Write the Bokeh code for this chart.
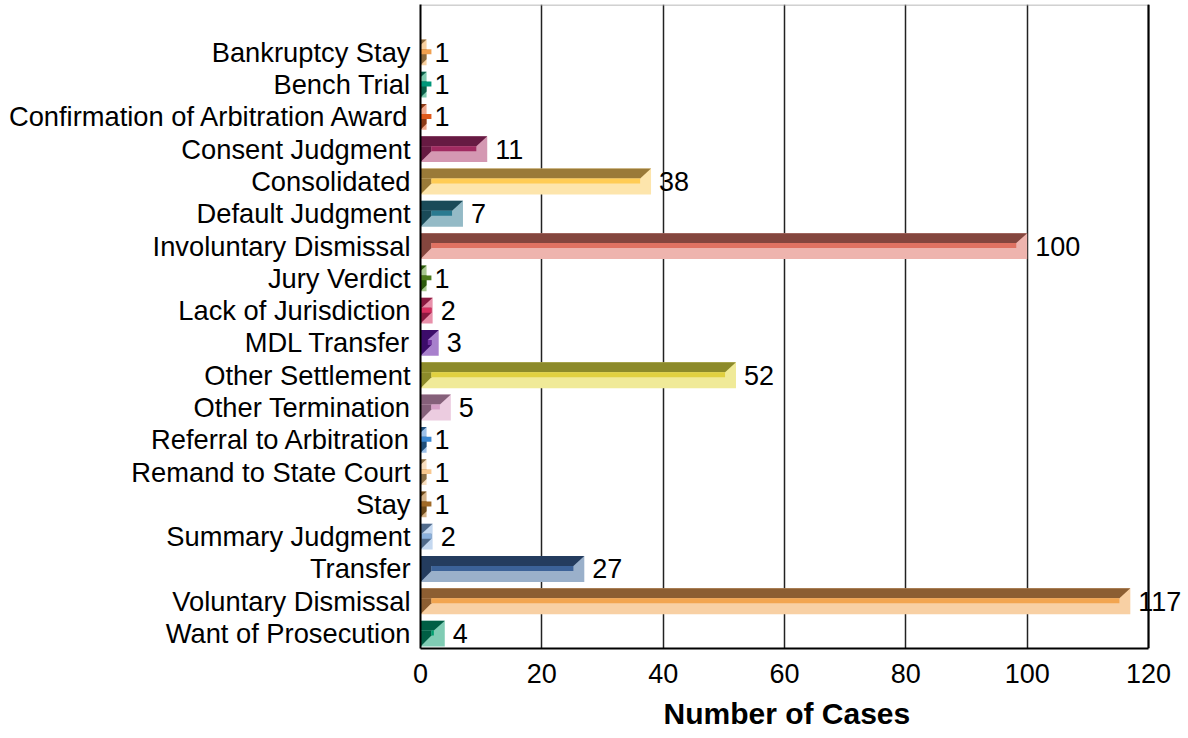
from bokeh.plotting import figure
from bokeh.models import FixedTicker, Span, ColumnDataSource, LabelSet, Title
from bokeh.core.properties import value
from bokeh.embed import file_html
from bokeh.resources import INLINE

categories = ["Bankruptcy Stay", "Bench Trial", "Confirmation of Arbitration Award",
              "Consent Judgment", "Consolidated", "Default Judgment", "Involuntary Dismissal",
              "Jury Verdict", "Lack of Jurisdiction", "MDL Transfer", "Other Settlement",
              "Other Termination", "Referral to Arbitration", "Remand to State Court", "Stay",
              "Summary Judgment", "Transfer", "Voluntary Dismissal", "Want of Prosecution"]
counts = [1, 1, 1, 11, 38, 7, 100, 1, 2, 3, 52, 5, 1, 1, 1, 2, 27, 117, 4]

dark_colors = ["#8C6A3E", "#0C5E48", "#8C3A16", "#661A42", "#9A7A38", "#1A4A58", "#84463E",
               "#2C5A0C", "#8A1A40", "#3C0C6A", "#8C8A2A", "#85607A", "#1F4E79", "#8C7048",
               "#6C4A1C", "#506A8A", "#243C5E", "#8C5E32", "#005E44"]
mid_colors = ["#F0A050", "#00977A", "#E05A1C", "#A02A60", "#FFCC55", "#2A7A90", "#E07262",
              "#4C7C1C", "#D83060", "#7030A0", "#E0D040", "#D8A0C8", "#3A86D0", "#F8C890",
              "#A06A28", "#8AB0DC", "#3C6298", "#F2A550", "#00A070"]
light_colors = ["#F8D0A0", "#80CCB0", "#F0A88C", "#D498B2", "#FDE5AC", "#94BAC6", "#EEB4AE",
                "#A8C890", "#E890AA", "#A880CC", "#F0EA98", "#ECCCE0", "#9CC0E8", "#F8DEC0",
                "#D6B48A", "#C4D8F0", "#9AB0CA", "#F8D0A4", "#80CCB4"]
x_ticks = [0, 20, 40, 60, 80, 100, 120]
x_max = 120
x_title = "Number of Cases"

FONT = "Liberation Sans"
n = len(categories)
ypos = [n - 1 - i for i in range(n)]

# geometry of the bevel (in data units)
half_h = 0.40
band_top = 0.308
band_mid = 0.154
bev = 1.8
y_lo, y_hi = -0.462, 19.48


def clip(poly, f):
    # Sutherland-Hodgman against half-plane f(x,y) <= 0
    out = []
    m = len(poly)
    for i in range(m):
        a = poly[i]
        b = poly[(i + 1) % m]
        fa, fb = f(*a), f(*b)
        if fa <= 0:
            out.append(a)
        if (fa <= 0) != (fb <= 0):
            t = fa / (fa - fb)
            out.append((a[0] + t * (b[0] - a[0]), a[1] + t * (b[1] - a[1])))
    return out


def rect(x0, x1, y0, y1):
    return [(x0, y0), (x1, y0), (x1, y1), (x0, y1)]


dxs, dys, dcol = [], [], []
sl, sr, sb_, st_, scol = [], [], [], [], []
for y, v, dc, mc in zip(ypos, counts, dark_colors, mid_colors):
    x0, x1 = 0.0, float(v)
    top, bot = y + half_h, y - half_h
    st = top - band_top
    sb = st - band_mid
    # upper dark face
    pa = clip(rect(x0, x1, st, top),
              lambda px, py, x1=x1, top=top, st=st: px - x1 + bev * (top - py) / (top - st))
    # left dark face
    pb = clip(rect(x0, min(x1, x0 + bev), bot, st),
              lambda px, py, bot=bot, sb=sb: px - (x0 + bev * (py - bot) / (sb - bot)))
    for poly in (pa, pb):
        if len(poly) >= 3:
            dxs.append([p[0] for p in poly])
            dys.append([p[1] for p in poly])
            dcol.append(dc)
    a, b = x0 + bev, x1 - bev
    sl.append(min(a, b)); sr.append(max(a, b)); sb_.append(sb); st_.append(st); scol.append(mc)

# frame is extended to the right so that the "117" label is not clipped
p = figure(width=1188, height=738, output_backend="svg", toolbar_location=None,
           x_range=(0, 126.59), y_range=(y_lo, y_hi),
           min_border_left=420, min_border_right=0, min_border_top=4, min_border_bottom=87)

bars = ColumnDataSource(dict(y=ypos, v=counts, light=light_colors,
                             lbl=[str(c) for c in counts]))
p.hbar(y="y", left=0, right="v", height=2 * half_h, fill_color="light", line_color=None,
       source=bars)
p.patches(xs=dxs, ys=dys, fill_color=dcol, line_color=None)
p.quad(left=sl, right=sr, bottom=sb_, top=st_, fill_color=scol, line_color=None)

# plot-area border: light top edge, black right edge
p.segment(x0=[0], y0=[y_hi - 0.5 / 32.44], x1=[x_max], y1=[y_hi - 0.5 / 32.44],
          line_color="#A0A0A0", line_width=1)
p.add_layout(Span(location=x_max, dimension="height", line_color="black", line_width=2))

labels = LabelSet(x="v", y="y", text="lbl", source=bars, x_offset=8, text_baseline="middle",
                  text_align="left", text_font=value(FONT), text_font_size="27px",
                  text_color="black")
p.add_layout(labels)

p.xaxis.ticker = FixedTicker(ticks=x_ticks)
p.xaxis.bounds = (0, x_max)
p.xaxis.major_label_text_font = FONT
p.xaxis.major_label_text_font_size = "27px"
p.xaxis.major_label_text_color = "black"
p.xaxis.major_label_standoff = 15
p.xaxis.major_tick_out = 0
p.xaxis.major_tick_in = 0
p.xaxis.minor_tick_line_color = None
p.xaxis.axis_line_color = "black"
p.xaxis.axis_line_width = 2

p.add_layout(Title(text=x_title, align="left", offset=243, standoff=18,
                   text_font=FONT, text_font_style="bold", text_font_size="30px",
                   text_color="black"), "below")

p.yaxis.ticker = FixedTicker(ticks=ypos)
p.yaxis.major_label_overrides = {y: c for y, c in zip(ypos, categories)}
p.yaxis.major_label_text_font = FONT
p.yaxis.major_label_text_font_size = "27.3px"
p.yaxis.major_label_text_color = "black"
p.yaxis.major_label_standoff = 10
p.yaxis.major_tick_out = 0
p.yaxis.major_tick_in = 0
p.yaxis.minor_tick_line_color = None
p.yaxis.axis_line_color = "black"
p.yaxis.axis_line_width = 2

p.ygrid.grid_line_color = None
p.xgrid.grid_line_color = "#222222"
p.xgrid.grid_line_width = 1.5
p.outline_line_color = None
p.background_fill_color = "white"
p.border_fill_color = "white"

open("out.html", "w").write(file_html(p, INLINE))
